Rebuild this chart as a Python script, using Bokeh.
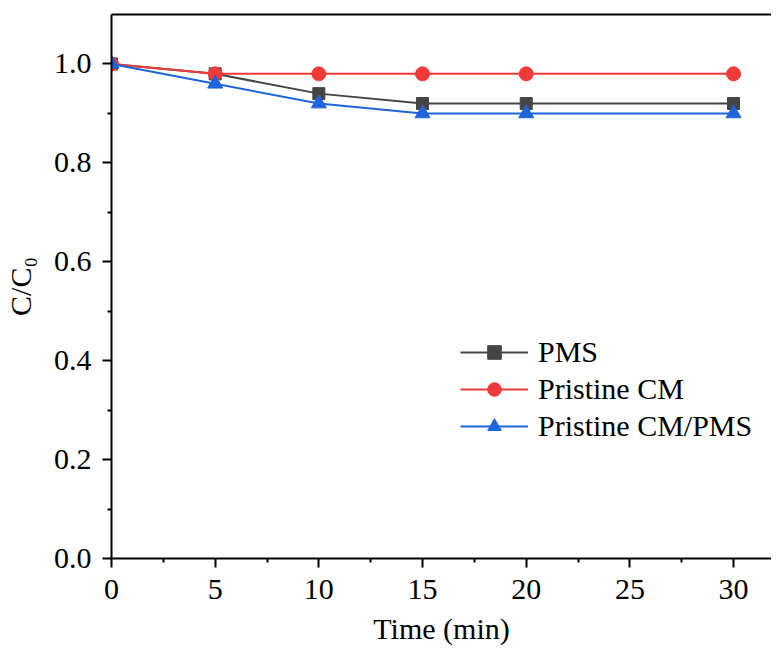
from bokeh.plotting import figure
from bokeh.models import Range1d, LinearAxis, FixedTicker, Legend, LegendItem, CustomJSTickFormatter
from bokeh.embed import file_html
from bokeh.resources import INLINE

time_min = [0, 5, 10, 15, 20, 30]
pms = [1.0, 0.98, 0.94, 0.92, 0.92, 0.92]
pristine_cm = [1.0, 0.98, 0.98, 0.98, 0.98, 0.98]
pristine_cm_pms = [1.0, 0.96, 0.92, 0.90, 0.90, 0.90]
x_ticks = [0, 5, 10, 15, 20, 25, 30]
y_ticks = [0.0, 0.2, 0.4, 0.6, 0.8, 1.0]

FONT = "Liberation Serif"
FS = "30px"

p = figure(frame_width=660, frame_height=544, output_backend="svg", toolbar_location=None,
           x_range=Range1d(0, 31.83), y_range=Range1d(0, 1.1),
           min_border_left=111, min_border_right=0, min_border_top=14, min_border_bottom=0)
p.grid.visible = False
p.outline_line_color = None
p.background_fill_color = "white"
p.border_fill_color = "white"

for ax in (p.xaxis[0], p.yaxis[0]):
    ax.axis_line_width = 2
    ax.axis_line_color = "black"
    ax.major_tick_line_width = 2
    ax.minor_tick_line_width = 2
    ax.major_tick_in = 0
    ax.major_tick_out = 9
    ax.minor_tick_in = 0
    ax.minor_tick_out = 4
    ax.major_label_text_font = FONT
    ax.major_label_text_font_size = FS
    ax.major_label_text_color = "black"
    ax.axis_label_text_font = FONT
    ax.axis_label_text_font_size = FS
    ax.axis_label_text_font_style = "normal"
    ax.axis_label_text_color = "black"

p.xaxis[0].ticker = FixedTicker(ticks=x_ticks, minor_ticks=[2.5, 7.5, 12.5, 17.5, 22.5, 27.5])
p.yaxis[0].ticker = FixedTicker(ticks=y_ticks, minor_ticks=[0.1, 0.3, 0.5, 0.7, 0.9])
p.yaxis[0].formatter = CustomJSTickFormatter(code="return tick.toFixed(1);")
p.xaxis[0].major_label_standoff = 12
p.yaxis[0].major_label_standoff = 11

p.xaxis[0].axis_label = "Time (min)"
p.xaxis[0].axis_label_standoff = 10
p.yaxis[0].axis_label = "C/C\u2080"
p.yaxis[0].axis_label_standoff = 14

top_axis = LinearAxis(ticker=FixedTicker(ticks=[]), axis_line_width=2, axis_line_color="black",
                      major_tick_out=0, minor_tick_out=0, major_label_text_font_size="0px")
p.add_layout(top_axis, "above")

gray = "#454545"
red = "#f03a3a"
blue = "#1f64d8"

l1 = p.line(time_min, pms, line_color=gray, line_width=2)
s1 = p.scatter(time_min, pms, marker="square", size=12, fill_color=gray, line_color=gray)
l2 = p.line(time_min, pristine_cm, line_color=red, line_width=2)
s2 = p.scatter(time_min, pristine_cm, marker="circle", size=14, fill_color=red, line_color=red)
l3 = p.line(time_min, pristine_cm_pms, line_color=blue, line_width=2)
s3 = p.scatter(time_min, pristine_cm_pms, marker="triangle", size=15, fill_color=blue, line_color=blue)

legend = Legend(items=[LegendItem(label="PMS", renderers=[l1, s1]),
                       LegendItem(label="Pristine CM", renderers=[l2, s2]),
                       LegendItem(label="Pristine CM/PMS", renderers=[l3, s3])],
                location=(349, 115), border_line_color=None, background_fill_alpha=0,
                padding=0, margin=0, spacing=3, glyph_width=68, glyph_height=34,
                label_height=34, label_standoff=10,
                label_text_font=FONT, label_text_font_size=FS, label_text_color="black")
p.add_layout(legend)

open("out.html", "w").write(file_html(p, INLINE))
